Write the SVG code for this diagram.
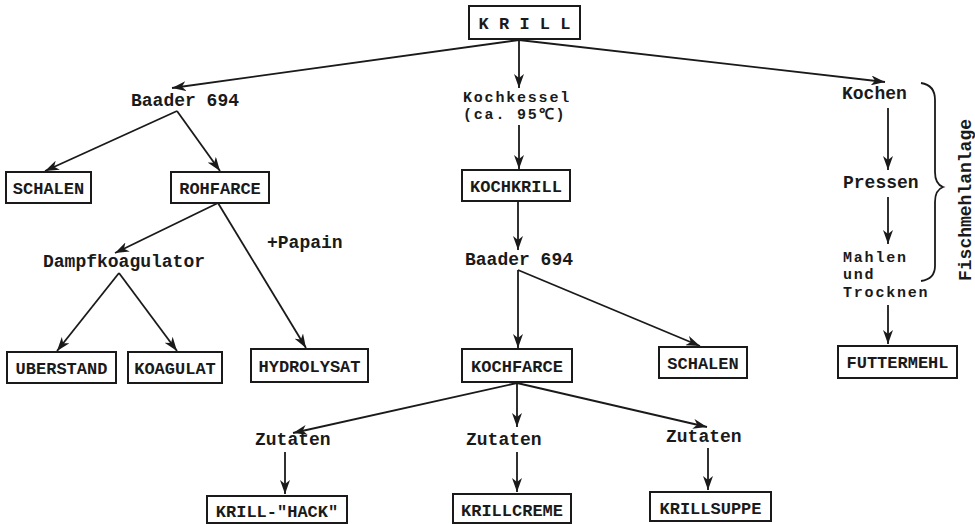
<svg xmlns="http://www.w3.org/2000/svg" width="975" height="524" viewBox="0 0 975 524">
<style>
  .bg{fill:#ffffff}
  .box{fill:none;stroke:#1a1a1a;stroke-width:2}
  .bt{font-family:"Liberation Mono","Courier New",monospace;font-size:17px;font-weight:bold;fill:#1a1a1a;text-anchor:middle}
  .lb{font-family:"Liberation Mono","Courier New",monospace;font-size:18px;font-weight:bold;fill:#1a1a1a}
  .ml{font-family:"Liberation Mono","Courier New",monospace;font-size:15px;letter-spacing:1.8px;font-weight:bold;fill:#1a1a1a}
  .cn{fill:none;stroke:#1a1a1a;stroke-width:1.8}
</style>
<defs>
  <marker id="ah" viewBox="0 0 14 10" refX="14" refY="5" markerWidth="14" markerHeight="10" markerUnits="userSpaceOnUse" orient="auto">
    <path d="M0,0 L14,5 L0,10 L4,5 z" fill="#1a1a1a"/>
  </marker>
</defs>
<rect class="bg" x="0" y="0" width="975" height="524"/>

<g id="connectors">
  <line class="cn" x1="519" y1="40" x2="172" y2="88" marker-end="url(#ah)"/>
  <line class="cn" x1="519" y1="40" x2="519" y2="88" marker-end="url(#ah)"/>
  <line class="cn" x1="519" y1="40" x2="885" y2="82" marker-end="url(#ah)"/>
  <line class="cn" x1="177" y1="111" x2="45" y2="171" marker-end="url(#ah)"/>
  <line class="cn" x1="177" y1="111" x2="220" y2="171" marker-end="url(#ah)"/>
  <line class="cn" x1="218" y1="203" x2="115" y2="253" marker-end="url(#ah)"/>
  <line class="cn" x1="218" y1="203" x2="306" y2="348" marker-end="url(#ah)"/>
  <line class="cn" x1="119" y1="273" x2="57" y2="351" marker-end="url(#ah)"/>
  <line class="cn" x1="119" y1="273" x2="177" y2="351" marker-end="url(#ah)"/>
  <line class="cn" x1="519" y1="125" x2="519" y2="169" marker-end="url(#ah)"/>
  <line class="cn" x1="518" y1="201" x2="518" y2="250" marker-end="url(#ah)"/>
  <line class="cn" x1="518" y1="270" x2="518" y2="348" marker-end="url(#ah)"/>
  <line class="cn" x1="518" y1="270" x2="700" y2="346" marker-end="url(#ah)"/>
  <line class="cn" x1="517" y1="383" x2="293" y2="433" marker-end="url(#ah)"/>
  <line class="cn" x1="517" y1="383" x2="517" y2="427" marker-end="url(#ah)"/>
  <line class="cn" x1="517" y1="383" x2="707" y2="427" marker-end="url(#ah)"/>
  <line class="cn" x1="285" y1="452" x2="285" y2="494" marker-end="url(#ah)"/>
  <line class="cn" x1="517" y1="452" x2="517" y2="492" marker-end="url(#ah)"/>
  <line class="cn" x1="708" y1="448" x2="708" y2="490" marker-end="url(#ah)"/>
  <line class="cn" x1="888" y1="108" x2="888" y2="170" marker-end="url(#ah)"/>
  <line class="cn" x1="888" y1="197" x2="888" y2="244" marker-end="url(#ah)"/>
  <line class="cn" x1="888" y1="305" x2="888" y2="344" marker-end="url(#ah)"/>
</g>

<g id="krill"><rect class="box" x="469" y="6" width="111" height="33"/><text class="bt" x="524.5" y="29">K R I L L</text></g>

<g id="baader1"><text class="lb" x="131" y="106">Baader 694</text></g>
<g id="schalen1"><rect class="box" x="6" y="172" width="85" height="31"/><text class="bt" x="48.5" y="194">SCHALEN</text></g>
<g id="rohfarce"><rect class="box" x="171" y="172" width="98" height="31"/><text class="bt" x="220" y="194">ROHFARCE</text></g>
<g id="dampf"><text class="lb" x="43" y="267">Dampfkoagulator</text></g>
<g id="papain"><text class="lb" x="267" y="248">+Papain</text></g>
<g id="uberstand"><rect class="box" x="7" y="352" width="109" height="31"/><text class="bt" x="61.5" y="374">UBERSTAND</text></g>
<g id="koagulat"><rect class="box" x="128" y="352" width="94" height="31"/><text class="bt" x="175" y="374">KOAGULAT</text></g>
<g id="hydrolysat"><rect class="box" x="251" y="349" width="117" height="33"/><text class="bt" x="309.5" y="372">HYDROLYSAT</text></g>

<g id="kochkessel"><text class="ml" x="463" y="102">Kochkessel</text><text class="ml" x="463" y="119">(ca. 95℃)</text></g>
<g id="kochkrill"><rect class="box" x="462" y="170" width="108" height="31"/><text class="bt" x="516" y="192">KOCHKRILL</text></g>
<g id="baader2"><text class="lb" x="465" y="265">Baader 694</text></g>
<g id="kochfarce"><rect class="box" x="462" y="349" width="110" height="33"/><text class="bt" x="517" y="372">KOCHFARCE</text></g>
<g id="schalen2"><rect class="box" x="659" y="347" width="88" height="31"/><text class="bt" x="703" y="369">SCHALEN</text></g>

<g id="zutaten1"><text class="lb" x="255" y="445">Zutaten</text></g>
<g id="zutaten2"><text class="lb" x="466" y="445">Zutaten</text></g>
<g id="zutaten3"><text class="lb" x="666" y="442">Zutaten</text></g>
<g id="hack"><rect class="box" x="207" y="496" width="140" height="27"/><text class="bt" x="277" y="517">KRILL-"HACK"</text></g>
<g id="creme"><rect class="box" x="453" y="494" width="118" height="29"/><text class="bt" x="512" y="516">KRILLCREME</text></g>
<g id="suppe"><rect class="box" x="650" y="492" width="121" height="29"/><text class="bt" x="710.5" y="514">KRILLSUPPE</text></g>

<g id="kochen"><text class="lb" x="842" y="99">Kochen</text></g>
<g id="pressen"><text class="lb" x="843" y="188">Pressen</text></g>
<g id="mahlen"><text class="ml" x="843" y="262">Mahlen</text><text class="ml" x="843" y="279">und</text><text class="ml" x="843" y="297">Trocknen</text></g>
<g id="futtermehl"><rect class="box" x="838" y="346" width="119" height="32"/><text class="bt" x="897.5" y="368">FUTTERMEHL</text></g>

<g id="fischmehlanlage">
  <path class="cn" d="M921,83 Q935,85 935,100 L935,172 Q935,184 943,187 Q935,190 935,202 L935,266 Q935,279 921,281"/>
  <text class="lb" transform="translate(971,200) rotate(-90)" text-anchor="middle" x="0" y="0">Fischmehlanlage</text>
</g>
</svg>
